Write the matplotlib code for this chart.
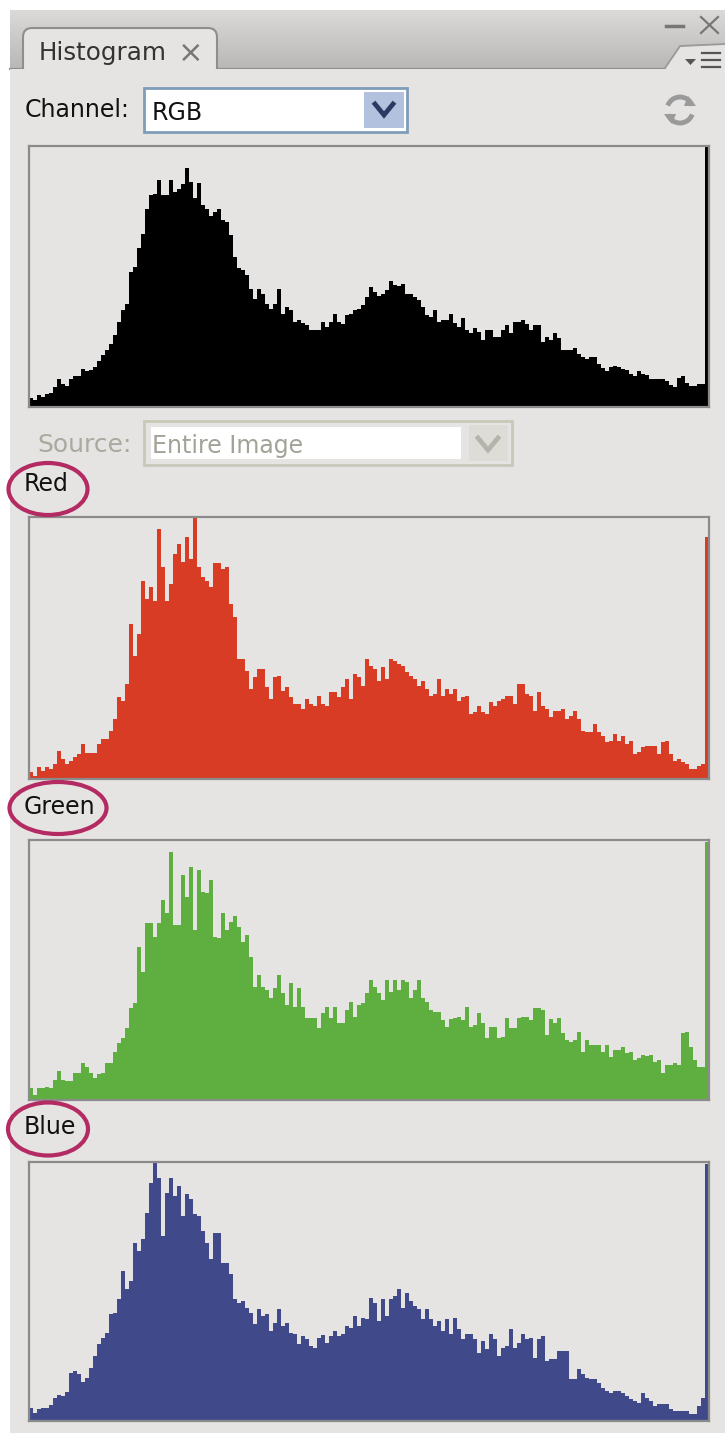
#!/usr/bin/env python3
import matplotlib
matplotlib.use("Agg")
import matplotlib.pyplot as plt
import numpy as np
from matplotlib.patches import Arc, Ellipse, FancyBboxPatch, Polygon, Rectangle

W, H = 725, 1433
PANEL = "#e5e4e2"

# bar heights per bin (in screen pixels, panel is about 261 tall)
rgb_values = [9,7,12,10,13,14,20,28,23,21,28,31,31,38,36,37,40,46,52,57,63,72,85,97,103,135,140,159,173,198,212,213,227,212,212,227,215,218,223,239,225,209,224,202,198,191,195,198,187,185,172,150,139,137,132,118,108,118,113,103,98,103,118,93,100,97,85,87,84,82,77,77,77,85,80,85,93,85,83,92,93,97,98,102,110,120,115,111,113,117,126,122,121,123,113,113,110,107,100,92,90,97,85,87,87,93,84,80,89,77,74,79,75,67,77,77,70,70,77,82,74,85,85,87,83,77,82,82,65,70,67,74,69,57,57,57,59,53,50,48,50,50,43,39,36,40,41,40,38,37,33,31,36,33,32,28,28,28,28,26,22,20,29,31,24,21,21,23,23,262]
red_values = [7,3,12,8,12,10,15,28,20,15,18,22,25,35,26,26,26,35,40,40,48,60,82,78,95,155,123,145,198,180,192,178,250,212,178,195,225,235,217,242,220,262,212,202,198,192,216,216,210,212,175,162,120,120,108,90,102,110,110,92,80,102,103,88,92,82,75,75,70,80,75,73,83,75,73,87,87,82,92,100,80,105,102,93,120,113,110,98,112,100,120,118,115,113,107,103,100,93,98,90,83,85,100,83,90,85,90,78,82,83,65,67,73,67,65,77,73,78,80,83,83,75,95,95,85,83,68,87,73,70,62,68,68,70,60,63,68,60,48,47,47,55,47,43,37,38,45,38,43,35,38,25,27,32,33,33,33,25,37,38,25,18,20,17,15,10,10,13,15,242]
green_values = [12,5,12,12,13,12,20,29,20,19,19,27,27,37,33,27,22,26,27,37,37,48,57,62,72,92,97,153,128,177,177,163,177,200,187,248,175,175,225,203,233,170,230,208,207,220,163,162,187,170,178,184,173,158,165,143,113,125,113,110,102,112,125,107,95,117,93,112,93,82,82,82,72,87,93,82,93,77,77,90,98,83,95,97,107,120,113,107,100,120,108,120,110,120,118,102,110,120,102,98,90,88,88,80,73,81,82,83,80,93,73,75,87,77,62,73,73,62,63,82,72,72,82,83,83,80,92,92,90,65,81,77,82,67,60,58,60,68,48,60,55,55,55,48,55,43,50,50,53,47,48,40,42,45,44,45,38,40,27,35,35,37,35,67,68,53,40,33,33,258]
blue_values = [13,8,12,13,13,16,23,26,25,29,48,50,47,39,43,53,65,77,83,88,107,108,122,150,132,140,178,170,182,208,238,258,243,185,228,243,225,235,205,227,222,207,205,190,178,162,188,188,158,158,147,122,118,120,113,108,97,112,105,107,90,98,112,95,98,88,87,77,85,82,75,73,83,86,78,85,90,85,87,95,93,105,95,103,102,123,118,100,122,105,122,125,132,113,128,120,115,112,102,112,102,95,100,90,102,87,103,92,82,87,87,82,68,80,72,87,82,65,73,75,92,73,78,87,82,83,63,82,85,60,62,62,70,70,70,42,42,52,47,43,42,42,38,33,30,28,30,30,28,25,22,20,18,28,23,20,15,17,17,17,12,10,10,10,10,7,7,15,23,257]

channel_names = ["Red", "Green", "Blue"]

plt.rcParams["font.family"] = ["DejaVu Sans"]


def hist_panel(fig, values, color, top, bottom):
    ax = fig.add_axes([29 / W, 1 - bottom / H, 680 / W, (bottom - top) / H])
    ax.set_facecolor(PANEL)
    edges = np.arange(len(values) + 1)
    ax.stairs(values, edges, fill=True, color=color, lw=0)
    ax.set_xlim(0, len(values))
    ax.set_ylim(0, bottom - top)
    ax.set_xticks([])
    ax.set_yticks([])
    for s in ax.spines.values():
        s.set_color("#8b8b8b")
        s.set_linewidth(1.6)
    return ax


def combo(ui, x0, x1, y0, y1, border, btn_x0, btn_x1, btn_color, arrow):
    ui.add_patch(Rectangle((x0, y0), x1 - x0, y1 - y0, fc="white", ec=border, lw=2))
    ui.add_patch(Rectangle((btn_x0, y0 + 4), btn_x1 - btn_x0, y1 - y0 - 8, fc=btn_color, ec="none"))
    cx = (btn_x0 + btn_x1) / 2
    cy = (y0 + y1) / 2
    ui.plot([cx - 9, cx, cx + 9], [cy - 6, cy + 5, cy - 6], color=arrow, lw=3.4, solid_joinstyle="miter")


def main():
    fig = plt.figure(figsize=(W / 100, H / 100), dpi=100, facecolor="white")
    ui = fig.add_axes([0, 0, 1, 1])
    ui.set_xlim(0, W)
    ui.set_ylim(H, 0)
    ui.axis("off")

    # panel body and title bar gradient
    ui.add_patch(Rectangle((10, 10), W - 10, H - 10, fc=PANEL, ec="none"))
    grad = np.linspace(0, 1, 60).reshape(-1, 1)
    ui.imshow(grad, extent=(10, W, 68, 10), cmap=matplotlib.colors.LinearSegmentedColormap.from_list(
        "bar", ["#dbdad8", "#b9b8b6"]), aspect="auto", zorder=1)
    ui.set_xlim(0, W)
    ui.set_ylim(H, 0)
    ui.plot([10, 665], [68.5, 68.5], color="#8f8e8c", lw=1.5, zorder=2)

    # tab
    ui.add_patch(FancyBboxPatch((23, 28), 194, 52, boxstyle="round,pad=0,rounding_size=9",
                                fc=PANEL, ec="#8f8e8c", lw=1.5, zorder=2))
    ui.add_patch(Rectangle((10, 69), W - 10, 14, fc=PANEL, ec="none", zorder=3))
    ui.text(39, 53, "Histogram", fontsize=17.7, color="#333333", va="center", zorder=4)
    ui.text(191, 53, "\u00d7", fontsize=22, color="#777777", ha="center", va="center", zorder=4)

    # window buttons and flyout corner
    ui.add_patch(Polygon([[665, 68], [680, 47], [725, 44], [725, 68]], fc=PANEL, ec="none", zorder=2))
    ui.plot([665, 680, 725], [68, 46, 44], color="#9a9997", lw=1.3, zorder=3)
    ui.plot([666, 683], [26, 26], color="#777777", lw=2.5, zorder=4)
    ui.plot([701, 718], [17, 33], color="#777777", lw=1.6, zorder=4)
    ui.plot([701, 718], [33, 17], color="#777777", lw=1.6, zorder=4)
    ui.add_patch(Polygon([[685, 59], [696, 59], [690.5, 65]], fc="#555555", ec="none", zorder=4))
    for y in [53, 60, 67]:
        ui.plot([702, 720], [y, y], color="#555555", lw=1.6, zorder=4)

    # channel row
    ui.text(25, 110, "Channel:", fontsize=17, color="#111111", va="center")
    combo(ui, 144, 407, 88, 132, "#7f9db9", 364, 404, "#b1c1de", "#2c3a62")
    ui.text(152, 113, "RGB", fontsize=17, color="#111111", va="center")
    ui.add_patch(Arc((680, 110), 26, 26, theta1=200, theta2=340, ec="#9a9a9a", lw=3.5))
    ui.add_patch(Arc((680, 110), 26, 26, theta1=20, theta2=160, ec="#9a9a9a", lw=3.5))
    ui.add_patch(Polygon([[688, 96], [696, 106], [684, 106]], fc="#9a9a9a", ec="none"))
    ui.add_patch(Polygon([[672, 124], [664, 114], [676, 114]], fc="#9a9a9a", ec="none"))

    # source row
    ui.text(37, 445, "Source:", fontsize=18, color="#aaa99f", va="center")
    ui.add_patch(Rectangle((144, 421), 368, 44, fc=PANEL, ec="#c8c7b8", lw=2))
    ui.add_patch(Rectangle((151, 427), 310, 32, fc="white", ec="none"))
    ui.add_patch(Rectangle((469, 425), 39, 36, fc="#dddcd7", ec="none"))
    ui.plot([478, 488, 498], [438, 450, 438], color="#b5b4ac", lw=3.4, solid_joinstyle="miter")
    ui.text(152, 446, "Entire Image", fontsize=17, color="#a3a297", va="center")

    hist_panel(fig, rgb_values, "black", 146, 407)
    hist_panel(fig, red_values, "#d83c24", 517, 779)
    hist_panel(fig, green_values, "#5fae40", 840, 1100)
    hist_panel(fig, blue_values, "#404a8a", 1162, 1421)

    # labels sit above the histograms, with the hand drawn rings around them
    over = fig.add_axes([0, 0, 1, 1], facecolor="none")
    over.set_xlim(0, W)
    over.set_ylim(H, 0)
    over.axis("off")
    for name, tx, ty, cx, cy, ew, eh in zip(channel_names, [24, 24, 24], [484, 807, 1127],
                                            [48, 58, 48], [489, 808, 1129], [79, 97, 80], [52, 52, 53]):
        over.text(tx, ty, name, fontsize=17, color="#111111", va="center")
        over.add_patch(Ellipse((cx, cy), ew, eh, fc="none", ec="#b42a62", lw=3))

    fig.savefig("out.png", dpi=100, facecolor="white")
    plt.close(fig)


if __name__ == "__main__":
    raise SystemExit(main())
